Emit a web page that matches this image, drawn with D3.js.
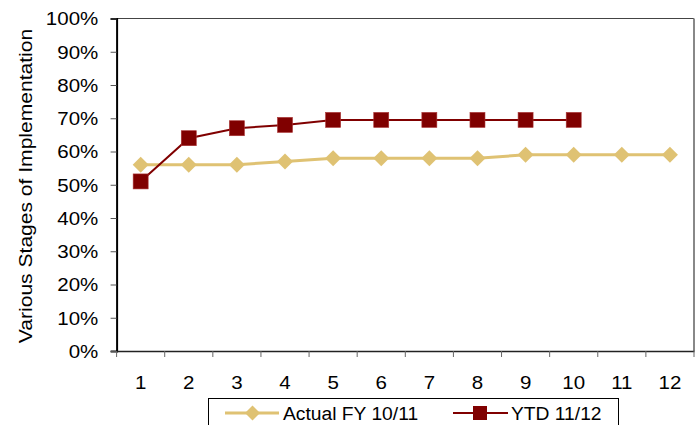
<!DOCTYPE html>
<html>
<head>
<meta charset="utf-8">
<script src="https://cdn.jsdelivr.net/npm/d3@7"></script>
<style>
  body { margin: 0; background: #fff; }
  svg { display: block; font-family: "Liberation Sans", Arial, sans-serif; }
</style>
</head>
<body>
<script>
//chart data
var months = ["1", "2", "3", "4", "5", "6", "7", "8", "9", "10", "11", "12"];
var actualFY1011 = [0.56, 0.56, 0.56, 0.57, 0.58, 0.58, 0.58, 0.58, 0.59, 0.59, 0.59, 0.59];
var ytd1112 = [0.51, 0.64, 0.67, 0.68, 0.695, 0.695, 0.695, 0.695, 0.695, 0.695];
var yTicks = [0, 0.1, 0.2, 0.3, 0.4, 0.5, 0.6, 0.7, 0.8, 0.9, 1];
var seriesNames = ["Actual FY 10/11", "YTD 11/12"];

var gold = "#dfc273",
    maroon = "#800000";

var width = 697, height = 425;
var plot = {left: 116.6, right: 694, top: 18.5, bottom: 351};

var svg = d3.select("body").append("svg")
    .attr("width", width)
    .attr("height", height);

var x = d3.scaleBand().domain(months).range([plot.left, plot.right]).padding(0);
var y = d3.scaleLinear().domain([0, 1]).range([plot.bottom, plot.top]);
var cx = function(i){ return x(months[i]) + x.bandwidth() / 2; };

//plot area border (top and right)
svg.append("line").attr("x1", plot.left).attr("x2", plot.right)
    .attr("y1", plot.top).attr("y2", plot.top)
    .attr("stroke", "#444").attr("stroke-width", 1);
svg.append("line").attr("x1", plot.right).attr("x2", plot.right)
    .attr("y1", plot.top).attr("y2", plot.bottom)
    .attr("stroke", "#888").attr("stroke-width", 2);

//y axis
var yAxis = svg.append("g")
    .attr("transform", "translate(" + plot.left + ",0)")
    .call(d3.axisLeft(y).tickValues(yTicks).tickFormat(d3.format(".0%")).tickSize(6).tickPadding(10));
yAxis.select(".domain").attr("stroke", "#000").attr("stroke-width", 2);
yAxis.selectAll(".tick line").attr("stroke", "#555");
yAxis.selectAll(".tick text")
    .attr("font-size", 18).attr("fill", "#000").attr("dy", "0.36em")
    .attr("transform", "translate(-100,0) scale(1.14,1) translate(87.7,0)");

//x axis (labels at band centres, ticks at band edges)
var xAxis = svg.append("g")
    .attr("transform", "translate(0," + plot.bottom + ")")
    .call(d3.axisBottom(x).tickSize(0).tickPadding(38));
xAxis.select(".domain").attr("stroke", "#222").attr("stroke-width", 1.5);
xAxis.selectAll(".tick text")
    .attr("font-size", 18).attr("fill", "#000").attr("dy", "0")
    .attr("transform", "scale(1.14,1)");
var edges = months.map(function(m){ return x(m); }).concat([x.range()[1]]);
svg.append("g").selectAll("line").data(edges).enter().append("line")
    .attr("x1", function(d){ return d; }).attr("x2", function(d){ return d; })
    .attr("y1", plot.bottom).attr("y2", plot.bottom + 6)
    .attr("stroke", "#666").attr("stroke-width", 1);

//y axis title
svg.append("text")
    .attr("transform", "translate(32,186) rotate(-90) scale(1.17,1)")
    .attr("text-anchor", "middle")
    .attr("font-size", 18)
    .text("Various Stages of Implementation");

//lines
var line = d3.line().x(function(d, i){ return cx(i); }).y(function(d){ return y(d); });

svg.append("path").datum(actualFY1011)
    .attr("d", line).attr("fill", "none")
    .attr("stroke", gold).attr("stroke-width", 3);

svg.append("path").datum(ytd1112)
    .attr("d", line).attr("fill", "none")
    .attr("stroke", maroon).attr("stroke-width", 2);

//markers
var diamond = function(s){ return "M0," + (-s) + "L" + s + ",0L0," + s + "L" + (-s) + ",0Z"; };

svg.append("g").selectAll("path").data(actualFY1011).enter().append("path")
    .attr("d", diamond(8))
    .attr("transform", function(d, i){ return "translate(" + cx(i) + "," + y(d) + ")"; })
    .attr("fill", gold);

svg.append("g").selectAll("rect").data(ytd1112).enter().append("rect")
    .attr("x", function(d, i){ return cx(i) - 7.5; })
    .attr("y", function(d){ return y(d) - 7.5; })
    .attr("width", 15).attr("height", 15)
    .attr("fill", maroon)
    .attr("stroke", "#a33").attr("stroke-width", 0.6);

//legend
var legend = svg.append("g");
legend.append("rect")
    .attr("x", 208.5).attr("y", 398.5).attr("width", 410).attr("height", 40)
    .attr("fill", "#fff").attr("stroke", "#000").attr("stroke-width", 1);

var ly = 413;
legend.append("line").attr("x1", 225).attr("x2", 279).attr("y1", ly).attr("y2", ly)
    .attr("stroke", gold).attr("stroke-width", 3);
legend.append("path").attr("d", diamond(7.5))
    .attr("transform", "translate(252.5," + ly + ")").attr("fill", gold);
legend.append("text").attr("font-size", 18)
    .attr("transform", "translate(283,420) scale(1.07,1)")
    .text(seriesNames[0]);

legend.append("line").attr("x1", 453).attr("x2", 508).attr("y1", ly).attr("y2", ly)
    .attr("stroke", maroon).attr("stroke-width", 2);
legend.append("rect").attr("x", 473).attr("y", ly - 7).attr("width", 14).attr("height", 14)
    .attr("fill", maroon);
legend.append("text").attr("font-size", 18)
    .attr("transform", "translate(511,420) scale(1.07,1)")
    .text(seriesNames[1]);
</script>
</body>
</html>
